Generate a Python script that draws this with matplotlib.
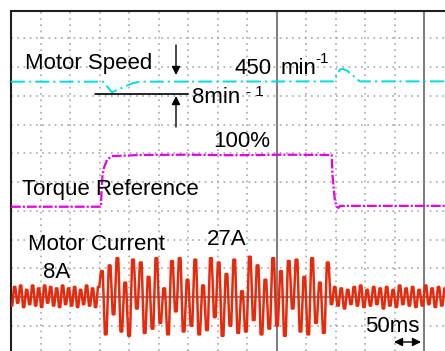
import numpy as np
import matplotlib
matplotlib.use("Agg")
import matplotlib.pyplot as plt

plt.rcParams['lines.scale_dashes'] = False
FONT = ['Liberation Sans', 'DejaVu Sans']

# screen: x in ms (50 ms / div), y in divisions (current zero line = 0)
grid_x = np.arange(50, 750, 50)
grid_y = np.arange(-1, 10, 1)
cursor_x = [450, 700]

# motor speed trace (divisions)
speed_t = [0, 156, 164, 171, 180, 195, 207, 219, 547, 553, 558, 563, 569, 580, 591, 735]
speed_v = [7.49, 7.49, 7.3, 7.12, 7.2, 7.34, 7.44, 7.49, 7.5, 7.75, 7.92, 7.93, 7.88, 7.7, 7.5, 7.5]

# torque reference trace (divisions)
torque_t = [0, 152.5, 153.5, 155, 157.5, 162.7, 171, 220, 300, 380, 460, 543.5,
            545, 549, 552.5, 555, 558, 735]
torque_v = [3.14, 3.14, 3.7, 4.2, 4.49, 4.77, 4.9, 4.94, 4.95, 4.93, 4.95, 4.94,
            4.2, 3.35, 3.13, 3.1, 3.17, 3.17]

# motor current, successive half-cycle levels (A)
current_pre = [-6, 7, -4, 8, -7, 5, -5, 8, -6, 6, -7, 8, -4, 7, -6,
               6, -7, 8, -5, 6, -6, 7, -7, 5, -5, 8, -6, 6, -7, 7]
current_run = [18, -26, 22, -12, 27, -24, 10, -27, 26, -8, 24, -25, 14, -22, 27,
               -18, 6, -26, 25, -10, 27, -24, 12, -20, 26, -26, 8, -23, 27, -14,
               24, -27, 16, -20, 26, -25, 4, -24, 28, -16, 22, -26, 12, -22, 27,
               -20, 18, -27, 25, -8, 26, -24, 14, -26, 27, -18, 10, -25, 24]
current_post = [-5, 7, -6, 6, -8, 5, -5, 7, -6, 8, -7, 5, -6, 7, -5, 6, -8, 7,
                -6, 5, -7, 8, -5, 6, -6, 7, -7, 5, -6, 8, -5, 6, -7, 7, -6, 6]
amps_per_div = 20

t_pre = np.arange(len(current_pre)) * 5.08
t_run = 152.5 + np.arange(len(current_run)) * 6.6
t_post = 542 + np.arange(len(current_post)) * 5.5
t_all = np.concatenate([t_pre, t_run, t_post])
v_all = np.concatenate([current_pre, current_run, current_post]) / amps_per_div
# short hold on each level, then a steep transition to the next
dt = np.diff(np.append(t_all, t_all[-1] + 5.5))
current_t = np.column_stack([t_all, t_all + 0.45 * dt]).ravel()
current_v = np.repeat(v_all, 2)

W, H = 445, 351
fig = plt.figure(figsize=(W / 100, H / 100), dpi=100)
ax = fig.add_axes([11 / W, 0, 434 / W, 340 / H])
ax.set_xlim(0, 434 / 0.59)
ax.set_ylim(-54 / 28.75, 286 / 28.75)

for gx in grid_x:
    ax.axvline(gx, color='#a0a0a0', lw=1.1, ls=(0, (1.2, 3.3)), zorder=1)
for gy in grid_y:
    ax.axhline(gy, color='#a0a0a0', lw=1.1, ls=(0, (1.2, 3.3)), zorder=1)
for cx in cursor_x:
    ax.axvline(cx, color='#808080', lw=1.5, zorder=2)
ax.axhline(0, color='#8a8a8a', lw=1.4, zorder=2)

ax.plot(speed_t, speed_v, color='#00dde0', lw=1.4, ls=(0, (10, 3, 1.5, 3)), zorder=3)
ax.plot(torque_t, torque_v, color='#e600e6', lw=1.6, ls=(0, (7, 1.5, 1.5, 1.5)), zorder=3)
ax.plot(current_t, current_v, color='#e82a0c', lw=1.8, zorder=4)

ax.set_xticks([])
ax.set_yticks([])
for side in ['right', 'bottom']:
    ax.spines[side].set_visible(False)
for side in ['top', 'left']:
    ax.spines[side].set_linewidth(1.5)
    ax.spines[side].set_color('#202020')


def label(x, y, s, size=16):
    fig.text(x / W, 1 - y / H, s, fontsize=size, ha='left', va='baseline',
             family=FONT, color='black')


label(25, 69, 'Motor Speed')
label(235, 74, '450')
label(281, 74, 'min')
label(315, 63, '-1', 11)
label(192, 103, '8min')
label(246, 96, '- 1', 11)
label(213, 147, '100%')
label(22, 195, 'Torque Reference')
label(28, 250, 'Motor Current')
label(207, 245, '27A')
label(43, 278, '8A')
label(365, 332, '50ms')


def arrow(x0, y0, x1, y1, style='-|>'):
    ax.annotate('', xy=(x1, H - y1), xytext=(x0, H - y0),
                xycoords='figure pixels', textcoords='figure pixels',
                arrowprops=dict(arrowstyle=style + ',head_length=0.5,head_width=0.25',
                                color='black', lw=1.0, shrinkA=0, shrinkB=0))


arrow(176, 45, 176, 75)
arrow(176, 127, 176, 96)
ax.annotate('', xy=(188, H - 94), xytext=(95, H - 94),
            xycoords='figure pixels', textcoords='figure pixels',
            arrowprops=dict(arrowstyle='-', color='black', lw=1.2, shrinkA=0, shrinkB=0))
arrow(394, 342, 421, 342, '<|-|>')

fig.savefig('out.png', dpi=100)
